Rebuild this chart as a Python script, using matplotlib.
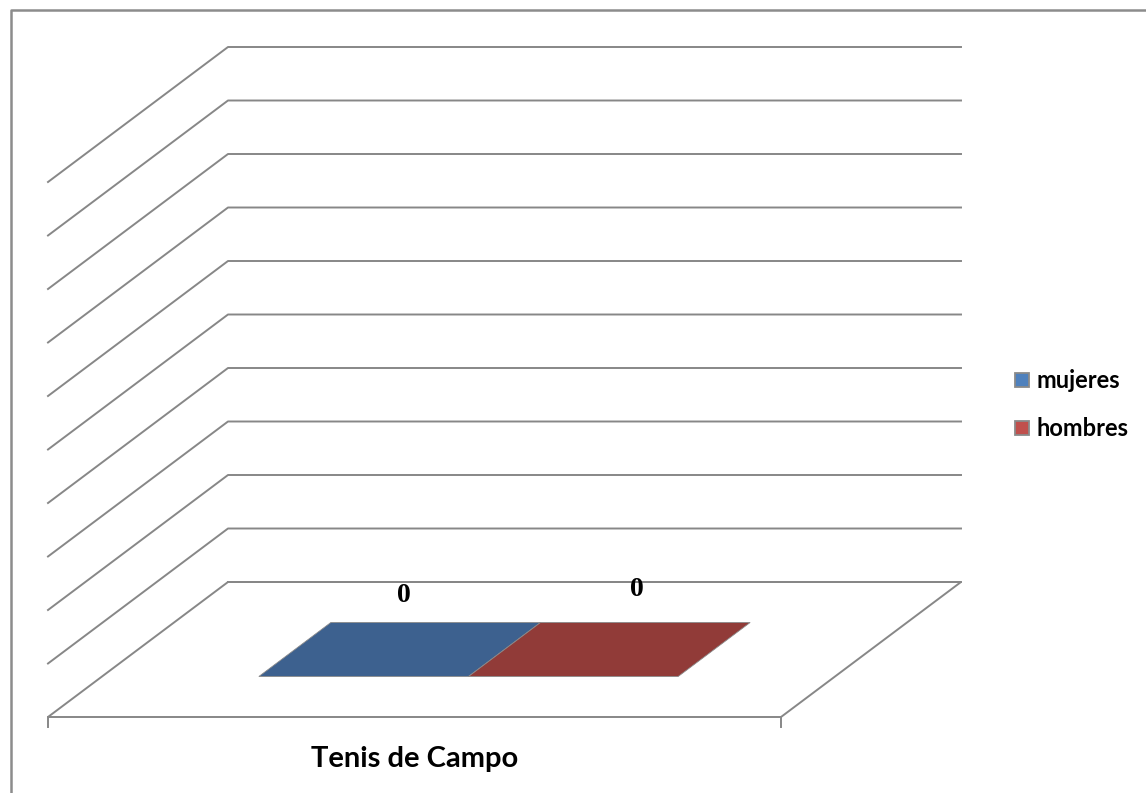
import matplotlib.pyplot as plt
from matplotlib.patches import Polygon
import numpy as np

categories = ["Tenis de Campo"]
series = ["mujeres", "hombres"]
values = [0, 0]
face_colors = ["#3D618F", "#913B38"]
legend_colors = ["#4F81BD", "#C0504D"]
y_ticks = np.linspace(0, 1, 11)

W, H = 1146, 793
# pixel frame of the fake 3D box
back_left, back_right = 228, 961
y_zero, y_top = 582, 47
depth_dx, depth_dy = -180, 135
grid_col = "#878787"


def proj(fx, depth, val):
    # fx: fraction across the back wall, depth: 0 back .. 1 front
    x = back_left + fx * (back_right - back_left) + depth * depth_dx
    y = y_zero - val * (y_zero - y_top) + depth * depth_dy
    return x, y


fig = plt.figure(figsize=(W / 100, H / 100), dpi=100)
ax = fig.add_axes([0, 0, 1, 1])
ax.set_xlim(0, W)
ax.set_ylim(H, 0)
ax.axis("off")

# outer chart border (partly cut off)
ax.plot([11, 11, W], [H, 10, 10], color="#8c8c8c", lw=1.8)

# back wall and side wall gridlines
for v in y_ticks:
    x0, y0 = proj(0, 1, v)
    x1, y1 = proj(0, 0, v)
    x2, y2 = proj(1, 0, v)
    if v == 0:
        ax.plot([x1, x2], [y1, y2], color=grid_col, lw=1.4)
    else:
        ax.plot([x0, x1, x2], [y0, y1, y2], color=grid_col, lw=1.4)

# floor
fl = [proj(0, 0, 0), proj(1, 0, 0), proj(1, 1, 0), proj(0, 1, 0)]
ax.add_patch(Polygon(fl, closed=True, fill=False, edgecolor=grid_col, lw=1.4))
for fx in [0, 1]:
    x, y = proj(fx, 1, 0)
    ax.plot([x, x], [y, y + 10], color=grid_col, lw=1.4)

# bars (flat, value 0)
edges = [0.214, 0.5, 0.786]
d0, d1 = 0.3, 0.7
for i, (name, val) in enumerate(zip(series, values)):
    a, b = edges[i], edges[i + 1]
    pts = [proj(a, d0, val), proj(b, d0, val), proj(b, d1, val), proj(a, d1, val)]
    ax.add_patch(Polygon(pts, closed=True, facecolor=face_colors[i],
                         edgecolor="#8a8a8a", lw=0.6))
    cx, cy = proj((a + b) / 2, d0, val)
    ax.text(cx - 32 + i * 24, cy - 27 - i * 6, f"{val}", ha="center", va="center",
            fontsize=20, fontweight="bold", family="Liberation Serif")

# category label
cx, cy = proj(0.5, 1, 0)
ax.text(cx, 759, categories[0], ha="center", va="center",
        fontsize=21, fontweight="bold", family=["Lato", "DejaVu Sans"])

# legend
for i, name in enumerate(series):
    ly = 380 + i * 48
    ax.add_patch(plt.Rectangle((1015, ly - 7), 14, 14, facecolor=legend_colors[i],
                               edgecolor="#8a8a8a", lw=1.3))
    ax.text(1036, ly, name, ha="left", va="center", fontsize=17,
            fontweight="bold", family=["Lato", "DejaVu Sans"])

fig.savefig("out.png", dpi=100)
